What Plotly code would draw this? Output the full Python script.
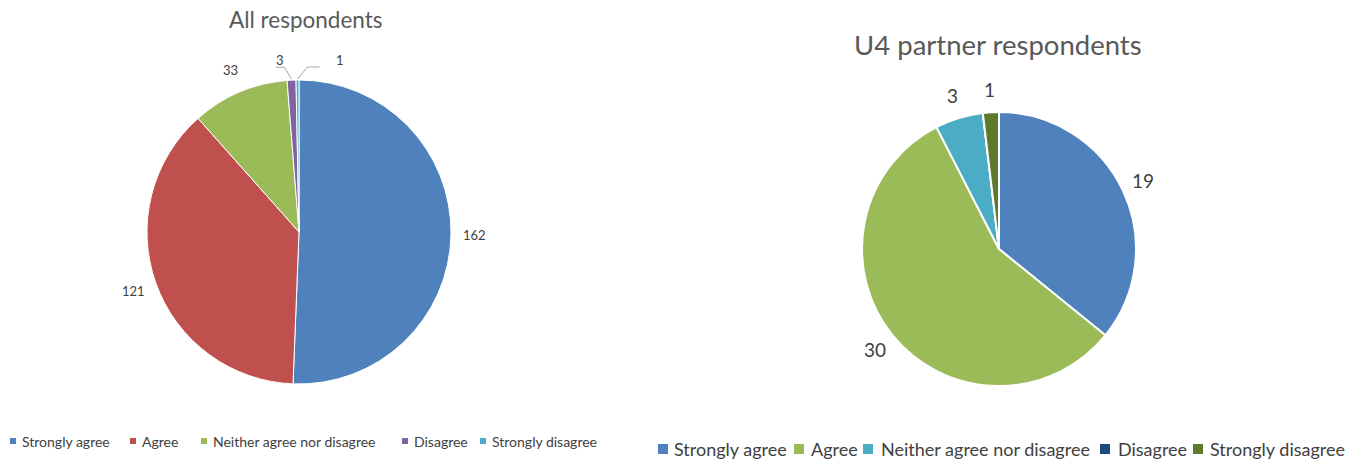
import math
import plotly.graph_objects as go

W, H = 1362, 460

# Survey answers
left_labels = ["Strongly agree", "Agree", "Neither agree nor disagree", "Disagree", "Strongly disagree"]
left_values = [162, 121, 33, 3, 1]
left_colors = ["#4F81BD", "#C0504D", "#9BBB59", "#8064A2", "#4BACC6"]

right_labels = ["Strongly agree", "Agree", "Neither agree nor disagree", "Disagree", "Strongly disagree"]
right_values = [19, 30, 3, 0, 1]
right_colors = ["#4F81BD", "#9BBB59", "#4BACC6", "#1F497D", "#5B7A2B"]

FONT = "Lato, 'Open Sans', sans-serif"
TEXT = "#404040"

# pie geometry in pixels: centre x, centre y (from top), radius
L_CX, L_CY, L_R = 299, 232, 152
R_CX, R_CY, R_R = 999, 249, 137

# legend rows: x of each swatch, x where each label starts, row y
L_LEG_SWATCH = [13, 133, 204, 405, 483]
L_LEG_TEXT = [21, 141, 212, 413, 491]
L_LEG_Y = 441
R_LEG_SWATCH = [663, 799, 868, 1105, 1198]
R_LEG_TEXT = [673, 810, 880, 1117, 1209]
R_LEG_Y = 449


def px(x):
    return x / W


def py(y):
    return 1 - y / H


def domain(cx, cy, r):
    return dict(x=[px(cx - r), px(cx + r)], y=[py(cy + r), py(cy - r)])


fig = go.Figure()
fig.add_trace(go.Pie(
    labels=left_labels, values=left_values, sort=False, direction="clockwise",
    rotation=0, textinfo="none", hoverinfo="label+value",
    marker=dict(colors=left_colors, line=dict(color="white", width=1)),
    domain=domain(L_CX, L_CY, L_R), showlegend=False,
))
fig.add_trace(go.Pie(
    labels=right_labels, values=right_values, sort=False, direction="clockwise",
    rotation=0, textinfo="none", hoverinfo="label+value",
    marker=dict(colors=right_colors, line=dict(color="white", width=2)),
    domain=domain(R_CX, R_CY, R_R), showlegend=False,
))

annotations = []
shapes = []


def text_at(x, y, text, size, color, xanchor="center", pad=1):
    annotations.append(dict(x=px(x), y=py(y), xref="paper", yref="paper",
                            xanchor=xanchor, yanchor="middle", borderpad=pad,
                            text=text, showarrow=False,
                            font=dict(family=FONT, size=size, color=color)))


def mid_angles(values):
    total = sum(values)
    out, acc = [], 0.0
    for v in values:
        out.append((acc + v / 2) / total * 360)
        acc += v
    return out


def add_value_labels(values, cx, cy, r, rlab, size, leaders=None):
    leaders = leaders or {}
    for i, (v, a) in enumerate(zip(values, mid_angles(values))):
        if v == 0:
            continue
        t = math.radians(a)
        sx, sy = math.sin(t), -math.cos(t)
        if i in leaders:
            # small slice: label pushed sideways with a bent leader line
            dx, lab_off = leaders[i]
            ex, ey = cx + sx * (r + 1), cy + sy * (r + 1)
            kx, ky = ex + dx * 0.5, ey - 12
            hx = kx + dx * 0.6
            shapes.append(dict(type="path", xref="paper", yref="paper",
                               path=f"M{px(ex)},{py(ey)} L{px(kx)},{py(ky)} L{px(hx)},{py(ky)}",
                               line=dict(color="#A6A6A6", width=1)))
            lx, ly = hx + lab_off, ky - 7
        else:
            lx, ly = cx + sx * rlab, cy + sy * rlab
        text_at(lx, ly, str(v), size, TEXT)


add_value_labels(left_values, L_CX, L_CY, L_R, 176, 13, leaders={3: (-14, 4), 4: (20, 21)})
add_value_labels(right_values, R_CX, R_CY, R_R, 160, 19)

# chart titles
text_at(306, 20, "All respondents", 22.5, "#595959")
text_at(998, 45, "U4 partner respondents", 27.5, "#595959")


def legend_row(labels, colors, sw_x, tx_x, y, size, sw_w):
    for lab, col, sx, tx in zip(labels, colors, sw_x, tx_x):
        shapes.append(dict(type="rect", xref="paper", yref="paper",
                           x0=px(sx - sw_w / 2), x1=px(sx + sw_w / 2),
                           y0=py(y + sw_w / 2), y1=py(y - sw_w / 2),
                           fillcolor=col, line=dict(width=0)))
        text_at(tx, y, lab, size, TEXT, "left", pad=0)


legend_row(left_labels, left_colors, L_LEG_SWATCH, L_LEG_TEXT, L_LEG_Y, 14, 6)
legend_row(right_labels, right_colors, R_LEG_SWATCH, R_LEG_TEXT, R_LEG_Y, 18, 10)

fig.update_layout(
    width=W, height=H, margin=dict(l=0, r=0, t=0, b=0),
    paper_bgcolor="white", plot_bgcolor="white",
    annotations=annotations, shapes=shapes,
)

fig.write_html("out.html")
